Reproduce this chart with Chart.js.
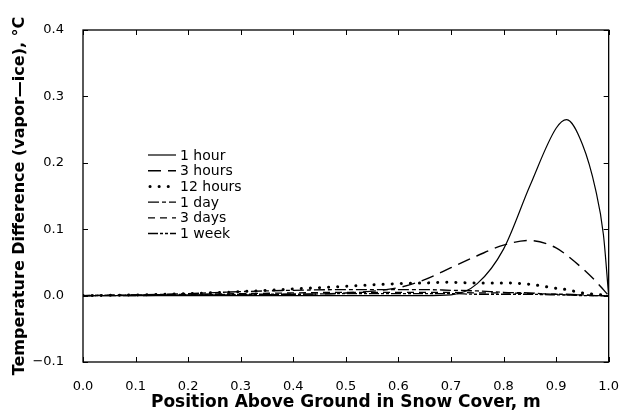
<!DOCTYPE html>
<html>
<head>
<meta charset="utf-8">
<script src="https://cdn.jsdelivr.net/npm/chart.js@4.4.0/dist/chart.umd.min.js"></script>
<style>
  html, body { margin: 0; padding: 0; background: #fff; }
  #wrap { width: 628px; height: 415px; }
</style>
</head>
<body>
<div id="wrap"><canvas id="chart" width="628" height="415"></canvas></div>
<script>
// position above ground (m)
const positions = [0, 0.1, 0.2, 0.3, 0.4, 0.5, 0.6, 0.65, 0.7, 0.75, 0.8, 0.85, 0.9, 0.92, 0.95, 0.975, 0.99, 1.0];

// temperature difference vapor - ice (deg C)
const oneHour   = [0, 0, 0, 0, 0, 0, 0, 0, 0.001, 0.018, 0.07, 0.165, 0.252, 0.265, 0.228, 0.160, 0.092, 0];
const threeHours = [0, 0, 0.001, 0.001, 0.002, 0.004, 0.012, 0.024, 0.042, 0.060, 0.076, 0.083, 0.072, 0.061, 0.041, 0.022, 0.009, 0];
const twelveHours = [0, 0.001, 0.003, 0.006, 0.010, 0.014, 0.018, 0.019, 0.020, 0.019, 0.019, 0.017, 0.011, 0.009, 0.004, 0.002, 0.001, 0];
const oneDay    = [0, 0.001, 0.003, 0.006, 0.008, 0.009, 0.009, 0.009, 0.008, 0.007, 0.005, 0.004, 0.002, 0.002, 0.001, 0, 0, 0];
const threeDays = [0, 0.001, 0.002, 0.003, 0.004, 0.005, 0.005, 0.005, 0.005, 0.004, 0.004, 0.003, 0.002, 0.001, 0.001, 0, 0, 0];
const oneWeek   = [0, 0.0005, 0.001, 0.002, 0.002, 0.003, 0.003, 0.003, 0.003, 0.002, 0.002, 0.002, 0.001, 0.001, 0, 0, 0, 0];

const seriesLabels = ["1 hour", "3 hours", "12 hours", "1 day", "3 days", "1 week"];

function pts(vals) {
    return positions.map((x, i) => ({ x: x, y: vals[i] }));
}

// inward tick marks + frame box, and the legend inside the plot
const framePlugin = {
    id: "frame",
    afterDraw(chart) {
        const ctx = chart.ctx;
        const a = chart.chartArea;
        const xs = chart.scales.x, ys = chart.scales.y;
        ctx.save();
        ctx.strokeStyle = "#000";
        ctx.lineWidth = 1.3;
        ctx.strokeRect(a.left, a.top, a.right - a.left, a.bottom - a.top);
        ctx.beginPath();
        xs.ticks.forEach(t => {
            const px = Math.round(xs.getPixelForValue(t.value)) + 0.5;
            ctx.moveTo(px, a.bottom); ctx.lineTo(px, a.bottom - 5);
            ctx.moveTo(px, a.top); ctx.lineTo(px, a.top + 5);
        });
        ys.ticks.forEach(t => {
            const py = Math.round(ys.getPixelForValue(t.value)) + 0.5;
            ctx.moveTo(a.left, py); ctx.lineTo(a.left + 5, py);
            ctx.moveTo(a.right, py); ctx.lineTo(a.right - 5, py);
        });
        ctx.lineWidth = 1;
        ctx.stroke();

        // legend
        const lx0 = 148, lx1 = 176, tx = 180, ty0 = 155, dy = 15.7;
        ctx.font = "14px 'DejaVu Sans'";
        ctx.textBaseline = "middle";
        ctx.fillStyle = "#000";
        chart.data.datasets.forEach((ds, i) => {
            const y = ty0 + i * dy;
            ctx.beginPath();
            ctx.setLineDash(ds.borderDash || []);
            ctx.lineCap = ds.borderCapStyle || "butt";
            ctx.lineWidth = ds.borderWidth;
            ctx.moveTo(ds.borderCapStyle === "round" ? lx0 + 2 : lx0, y);
            ctx.lineTo(lx1, y);
            ctx.stroke();
            ctx.setLineDash([]);
            ctx.fillText(ds.label, tx, y + 1);
        });
        ctx.restore();
    }
};

const common = { borderColor: "#000", pointRadius: 0, fill: false, cubicInterpolationMode: "monotone" };

new Chart(
    document.querySelector("canvas#chart"),
    {
        type: "line",
        data: {
            datasets: [
                Object.assign({ label: seriesLabels[0], data: pts(oneHour), borderWidth: 1.2 }, common),
                Object.assign({ label: seriesLabels[1], data: pts(threeHours), borderWidth: 1.4, borderDash: [13, 7] }, common),
                Object.assign({ label: seriesLabels[2], data: pts(twelveHours), borderWidth: 3, borderDash: [0.1, 9], borderCapStyle: "round" }, common),
                Object.assign({ label: seriesLabels[3], data: pts(oneDay), borderWidth: 1.3, borderDash: [11, 3, 4, 3] }, common),
                Object.assign({ label: seriesLabels[4], data: pts(threeDays), borderWidth: 1.3, borderDash: [7, 5] }, common),
                Object.assign({ label: seriesLabels[5], data: pts(oneWeek), borderWidth: 1.3, borderDash: [10, 2, 3, 2, 3, 2] }, common)
            ]
        },
        options: {
            responsive: false,
            animation: false,
            devicePixelRatio: 1,
            layout: { padding: { top: 30, right: 12, left: 0, bottom: 0 } },
            plugins: { legend: { display: false }, tooltip: { enabled: false } },
            scales: {
                x: {
                    type: "linear",
                    min: 0, max: 1,
                    grid: { display: false },
                    border: { display: false },
                    ticks: {
                        stepSize: 0.1,
                        color: "#000",
                        padding: 9,
                        maxRotation: 0,
                        font: { family: "DejaVu Sans", size: 13 },
                        callback: v => v.toFixed(1)
                    },
                    title: {
                        display: true,
                        text: "Position Above Ground in Snow Cover, m",
                        color: "#000",
                        font: { family: "DejaVu Sans", size: 17, weight: "bold" },
                        padding: { top: 2, bottom: 2 }
                    },
                    afterFit: s => { s.height = 53; }
                },
                y: {
                    min: -0.1, max: 0.4,
                    grid: { display: false },
                    border: { display: false },
                    ticks: {
                        stepSize: 0.1,
                        color: "#000",
                        padding: 11,
                        font: { family: "DejaVu Sans", size: 13 },
                        callback: v => v.toFixed(1).replace("-", "\u2212")
                    },
                    title: {
                        display: true,
                        text: "Temperature Difference (vapor\u2014ice), \u00B0C",
                        color: "#000",
                        font: { family: "DejaVu Sans", size: 16, weight: "bold" },
                        padding: { top: 10, bottom: 10 }
                    },
                    afterFit: s => { s.width = 83; }
                }
            }
        },
        plugins: [framePlugin]
    }
);
</script>
</body>
</html>
